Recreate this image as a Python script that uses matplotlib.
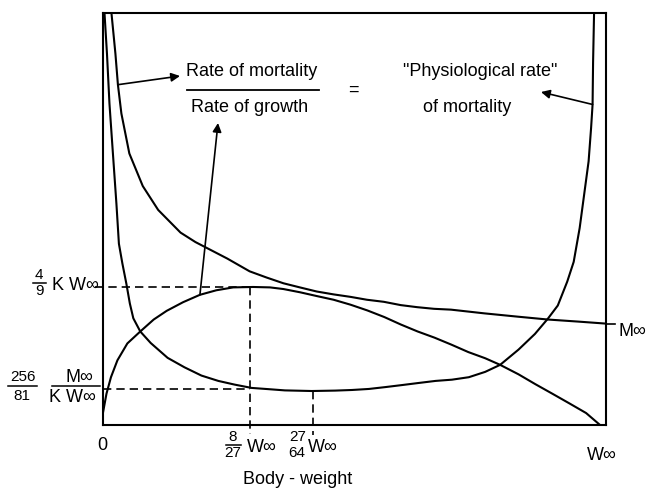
import matplotlib
matplotlib.use("Agg")
import matplotlib.pyplot as plt
from matplotlib.lines import Line2D

FONT = ["Liberation Sans", "DejaVu Sans"]

# body weight as fraction of W-infinity, curve heights as fraction of the frame
growth_w = [0.0, 0.007, 0.016, 0.029, 0.049, 0.075, 0.102, 0.128, 0.161, 0.195,
            0.228, 0.262, 0.302, 0.336, 0.363, 0.397, 0.430, 0.464, 0.498, 0.532,
            0.566, 0.599, 0.633, 0.667, 0.701, 0.735, 0.769, 0.799, 0.836, 0.870,
            0.904, 0.939, 0.972, 1.0]
growth_y = [0.030, 0.076, 0.116, 0.157, 0.198, 0.227, 0.256, 0.277, 0.298, 0.316,
            0.327, 0.334, 0.335, 0.334, 0.330, 0.322, 0.313, 0.304, 0.292, 0.278,
            0.262, 0.244, 0.227, 0.212, 0.195, 0.177, 0.162, 0.146, 0.123, 0.099,
            0.076, 0.052, 0.029, 0.0]

mort_w = [0.017, 0.025, 0.030, 0.037, 0.053, 0.080, 0.111, 0.156, 0.186, 0.250,
          0.295, 0.329, 0.363, 0.396, 0.430, 0.464, 0.498, 0.531, 0.565, 0.599,
          0.632, 0.666, 0.700, 0.767, 0.834, 0.895, 0.956, 1.013]
mort_y = [1.0, 0.901, 0.826, 0.756, 0.659, 0.580, 0.522, 0.467, 0.444, 0.404,
          0.373, 0.358, 0.344, 0.334, 0.324, 0.317, 0.311, 0.304, 0.299, 0.291,
          0.286, 0.282, 0.280, 0.271, 0.263, 0.256, 0.251, 0.246]

physio_w = [0.003, 0.008, 0.013, 0.020, 0.027, 0.032, 0.039, 0.047, 0.054, 0.061,
            0.075, 0.096, 0.130, 0.164, 0.198, 0.232, 0.265, 0.299, 0.333, 0.366,
            0.420, 0.467, 0.501, 0.535, 0.568, 0.602, 0.635, 0.669, 0.702, 0.736,
            0.769, 0.799, 0.836, 0.869, 0.895, 0.915, 0.934, 0.947, 0.959, 0.968,
            0.977, 0.982, 0.985, 0.986, 0.988]
physio_y = [1.0, 0.901, 0.780, 0.658, 0.537, 0.440, 0.392, 0.343, 0.295, 0.259,
            0.227, 0.199, 0.163, 0.140, 0.120, 0.107, 0.098, 0.090, 0.087, 0.084,
            0.0825, 0.0835, 0.085, 0.0875, 0.092, 0.097, 0.102, 0.107, 0.110, 0.116,
            0.129, 0.146, 0.183, 0.221, 0.258, 0.290, 0.348, 0.396, 0.478, 0.559,
            0.640, 0.721, 0.778, 0.88, 1.0]

growth_max_w = 8 / 27
growth_max_y = 0.335
physio_min_w = 27 / 64
physio_min_y = 0.0825
physio_guide_y = 0.088
m_inf_y = 0.246

fig = plt.figure(figsize=(6.46, 4.91), dpi=100)
ax = fig.add_axes([103 / 646, 66 / 491, 503 / 646, 412 / 491])
ax.set_xlim(0, 1.012)
ax.set_ylim(0, 1)
ax.set_xticks([])
ax.set_yticks([])
for s in ax.spines.values():
    s.set_linewidth(1.5)

curve = dict(color="k", lw=1.5, solid_joinstyle="round", solid_capstyle="round")
ax.plot(growth_w, growth_y, **curve)
ax.plot(mort_w, mort_y, **curve)
ax.plot(physio_w, physio_y, **curve)

# guide lines
dash = dict(color="k", lw=1.2, ls=(0, (5, 3)), clip_on=False)
ax.plot([-0.016, growth_max_w], [growth_max_y, growth_max_y], **dash)
ax.plot([0, growth_max_w], [physio_guide_y, physio_guide_y], **dash)
ax.plot([growth_max_w, growth_max_w], [growth_max_y, -0.022], **dash)
ax.plot([physio_min_w, physio_min_w], [physio_min_y, -0.025], **dash)
ax.plot([1.012, 1.03], [m_inf_y, m_inf_y], color="k", lw=1.2, clip_on=False)


def fpx(x, y):
    return (x / 646, 1 - y / 491)


def label(x, y, s, size=13, **kw):
    fig.text(*fpx(x, y), s, ha="center", va="center", fontsize=size,
             family=FONT, **kw)


def bar(x0, x1, y, lw=1.1):
    fig.add_artist(Line2D([x0 / 646, x1 / 646], [1 - y / 491] * 2,
                          color="k", lw=lw, transform=fig.transFigure))


# headline
label(252, 72, "Rate of mortality")
bar(187, 319, 90, lw=1.3)
label(250, 107, "Rate of growth")
label(353, 90, "=")
label(480, 72, "\"Physiological rate\"")
label(467, 107, "of mortality")

arrow = dict(arrowstyle="-|>", color="k", lw=1.2, mutation_scale=13,
             shrinkA=0, shrinkB=0)
ax.annotate("", xy=fpx(180, 76), xycoords="figure fraction",
            xytext=(0.030, 0.826), textcoords="data", arrowprops=arrow)
ax.annotate("", xy=fpx(218, 123), xycoords="figure fraction",
            xytext=(0.195, 0.316), textcoords="data", arrowprops=arrow)
ax.annotate("", xy=fpx(541, 92), xycoords="figure fraction",
            xytext=(0.985, 0.778), textcoords="data", arrowprops=arrow)

# left labels
label(39, 275, "4", size=11)
bar(33, 46, 283)
label(39, 291, "9", size=11)
label(75, 285, "K W\u221e")

label(23, 377, "256", size=11)
bar(8, 37, 386)
label(22, 396, "81", size=11)
label(79, 377, "M\u221e")
bar(52, 100, 386)
label(72, 398, "K W\u221e")

# bottom labels
label(102, 445, "0")
label(233, 437, "8", size=11)
bar(226, 241, 445)
label(233, 453, "27", size=11)
label(262, 447, "W\u221e")
label(298, 437, "27", size=11)
label(297, 453, "64", size=11)
label(323, 447, "W\u221e")
label(602, 456, "W\u221e")
label(632, 331, "M\u221e")
label(298, 480, "Body - weight")

fig.savefig("out.png", dpi=100)
